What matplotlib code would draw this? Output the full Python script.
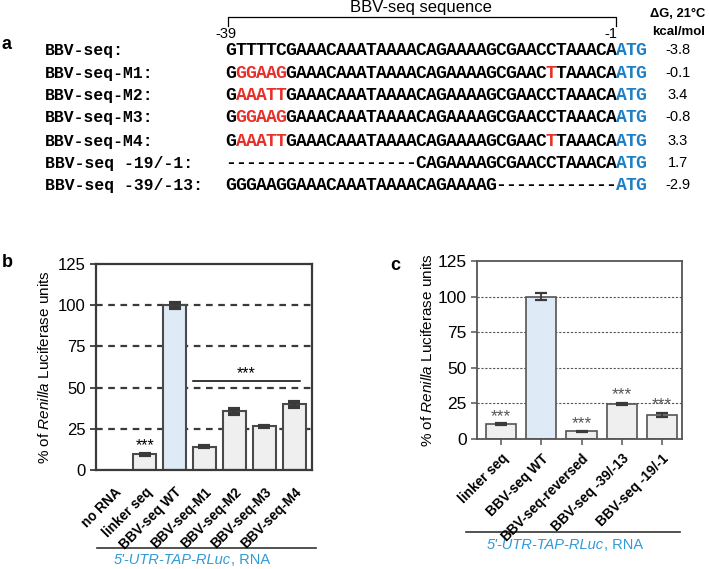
import numpy as np
import matplotlib
matplotlib.use("Agg")
import matplotlib.pyplot as plt

plt.rcParams["font.family"] = "Liberation Sans"
plt.rcParams["mathtext.fontset"] = "custom"
plt.rcParams["mathtext.rm"] = "Liberation Sans"
plt.rcParams["mathtext.it"] = "Liberation Sans:italic"
plt.rcParams["mathtext.bf"] = "Liberation Sans:bold"

# ---- panel a: sequences ----
seq_names = ["BBV-seq:", "BBV-seq-M1:", "BBV-seq-M2:", "BBV-seq-M3:",
             "BBV-seq-M4:", "BBV-seq -19/-1:", "BBV-seq -39/-13:"]
seq_rows = ["GTTTTCGAAACAAATAAAACAGAAAAGCGAACCTAAACAATG",
            "GGGAAGGAAACAAATAAAACAGAAAAGCGAACTTAAACAATG",
            "GAAATTGAAACAAATAAAACAGAAAAGCGAACCTAAACAATG",
            "GGGAAGGAAACAAATAAAACAGAAAAGCGAACCTAAACAATG",
            "GAAATTGAAACAAATAAAACAGAAAAGCGAACTTAAACAATG",
            "-------------------CAGAAAAGCGAACCTAAACAATG",
            "GGGAAGGAAACAAATAAAACAGAAAAG------------ATG"]
seq_red = [[], [1, 2, 3, 4, 5, 32], [1, 2, 3, 4, 5], [1, 2, 3, 4, 5],
           [1, 2, 3, 4, 5, 32], [], []]
seq_dG = ["-3.8", "-0.1", "3.4", "-0.8", "3.3", "1.7", "-2.9"]

# ---- panel b ----
b_labels = ["no RNA", "linker seq", "BBV-seq WT", "BBV-seq-M1",
            "BBV-seq-M2", "BBV-seq-M3", "BBV-seq-M4"]
b_vals = [0, 9.5, 100, 14, 35.5, 26.5, 40]
b_err = [0, 0.4, 1.5, 0.3, 1.3, 0.5, 1.5]

# ---- panel c ----
c_labels = ["linker seq", "BBV-seq WT", "BBV-seq-reversed",
            "BBV-seq -39/-13", "BBV-seq -19/-1"]
c_vals = [10.5, 100, 5.5, 24.5, 17]
c_err = [0.5, 2.5, 0.4, 0.7, 1.2]
c_stars = [15.5, None, 11, 31, 24]

RED = "#e8302a"
BLUE = "#1f7fc4"
LBLUE = "#2f9ad8"
GRAY = "#efefef"
WTBLUE = "#deeaf6"
DARK = "#3a3a3a"

W, H = 709, 569
fig = plt.figure(figsize=(W / 100, H / 100), dpi=100)

# overlay in pixel coordinates for panel a and annotations
ov = fig.add_axes([0, 0, 1, 1])
ov.set_xlim(0, W); ov.set_ylim(H, 0); ov.axis("off")

ov.text(2, 44, "a", fontsize=13, fontweight="bold", va="center")
ov.text(2, 262, "b", fontsize=13, fontweight="bold", va="center")
ov.text(390, 265, "c", fontsize=13, fontweight="bold", va="center")

# bracket over sequence
ov.plot([228, 228, 616, 616], [26, 17, 17, 26], color="k", lw=0.9)
ov.text(421, 7, "BBV-seq sequence", fontsize=12, ha="center", va="center")
ov.text(226, 34, "-39", fontsize=10.5, ha="center", va="center")
ov.text(611, 34, "-1", fontsize=10.5, ha="center", va="center")
ov.text(650, 14, "\u0394G, 21\u00b0C", fontsize=9.3, fontweight="bold", va="center")
ov.text(652, 32, "kcal/mol", fontsize=9.5, fontweight="bold", va="center")

row_y = [50, 73, 95, 117, 141, 163, 185]
x0, dx = 226, 10.0
for name, seq, red, dg, y in zip(seq_names, seq_rows, seq_red, seq_dG, row_y):
    ov.text(45, y, name, family="Liberation Mono", fontweight="bold",
            fontsize=11.8, va="center")
    for i, ch in enumerate(seq):
        col = "k"
        if i in red:
            col = RED
        elif i >= len(seq) - 3:
            col = BLUE
        ov.text(x0 + dx / 2 + i * dx, y, ch, family="Liberation Mono",
                fontweight="bold", fontsize=13, color=col,
                ha="center", va="center")
    ov.text(678, y, dg, fontsize=10.5, ha="center", va="center")

# ---- panel b axes ----
axb = fig.add_axes([96 / W, 1 - 470 / H, 216 / W, 206 / H])
xb = np.arange(len(b_labels))
colb = [WTBLUE if "WT" in l else GRAY for l in b_labels]
axb.bar(xb, b_vals, width=0.77, color=colb, edgecolor="#4a4a4a", lw=1.5, zorder=2)
axb.errorbar(xb[1:], b_vals[1:], yerr=b_err[1:], fmt="none", ecolor=DARK,
             elinewidth=3, capsize=4.5, capthick=3, zorder=3)
for v in [25, 50, 75, 100]:
    axb.axhline(v, color=DARK, lw=1.6, ls=(0, (3, 2.5)), zorder=1)
axb.set_xlim(-0.63, 6.6)
axb.set_ylim(0, 125)
axb.set_yticks([0, 25, 50, 75, 100, 125])
axb.set_xticks(xb)
axb.set_xticklabels(b_labels, rotation=45, ha="right", rotation_mode="anchor",
                    fontsize=9.8, fontweight="bold")
axb.tick_params(axis="x", length=0, pad=11)
axb.tick_params(axis="y", labelsize=12, length=4, width=1.3, color=DARK)
for s in axb.spines.values():
    s.set_color(DARK); s.set_linewidth(1.6)
axb.set_ylabel(r"% of $\it{Renilla}$ Luciferase units", fontsize=11, labelpad=4)
axb.text(1, 14.5, "***", fontsize=11.5, ha="center", va="center")
axb.plot([2.62, 6.2], [54, 54], color="k", lw=1.1, clip_on=False)
axb.text(4.4, 58.5, "***", fontsize=11.5, ha="center", va="center")

# ---- panel c axes ----
axc = fig.add_axes([477 / W, 1 - 439 / H, 205 / W, 178 / H])
xc = np.arange(len(c_labels))
colc = [WTBLUE if "WT" in l else GRAY for l in c_labels]
axc.bar(xc, c_vals, width=0.75, color=colc, edgecolor="#555555", lw=1.2, zorder=2)
axc.errorbar(xc, c_vals, yerr=c_err, fmt="none", ecolor=DARK,
             elinewidth=1.3, capsize=4, capthick=1.6, zorder=3)
for v in [25, 50, 75, 100]:
    axc.axhline(v, color="#555555", lw=0.8, ls=(0, (2, 1.5)), zorder=1)
for xi, sy in zip(xc, c_stars):
    if sy is not None:
        axc.text(xi, sy, "***", fontsize=12.5, color="#555555", ha="center", va="center")
axc.set_xlim(-0.6, 4.5)
axc.set_ylim(0, 125)
axc.set_yticks([0, 25, 50, 75, 100, 125])
axc.set_xticks(xc)
axc.set_xticklabels(c_labels, rotation=45, ha="right", rotation_mode="anchor",
                    fontsize=9.8, fontweight="bold")
axc.tick_params(axis="x", length=4, width=1.1, color="#555555", pad=5)
axc.tick_params(axis="y", labelsize=12.5, length=4, width=1.1, color="#555555")
for s in axc.spines.values():
    s.set_color("#555555"); s.set_linewidth(1.3)
axc.set_ylabel(r"% of $\it{Renilla}$ Luciferase units", fontsize=11, labelpad=2)

# bottom construct labels
ov.plot([97, 316], [548, 548], color="#333333", lw=1.2)
ov.text(231, 560, "5'-UTR-TAP-RLuc", fontsize=10.5, style="italic", color=LBLUE,
        ha="right", va="center")
ov.text(231, 560, ", RNA", fontsize=10.5, color=LBLUE, ha="left", va="center")
ov.plot([466, 680], [532, 532], color="#333333", lw=1.2)
ov.text(604, 545, "5'-UTR-TAP-RLuc", fontsize=10.5, style="italic", color=LBLUE,
        ha="right", va="center")
ov.text(604, 545, ", RNA", fontsize=10.5, color=LBLUE, ha="left", va="center")

fig.savefig("out.png", dpi=100)
